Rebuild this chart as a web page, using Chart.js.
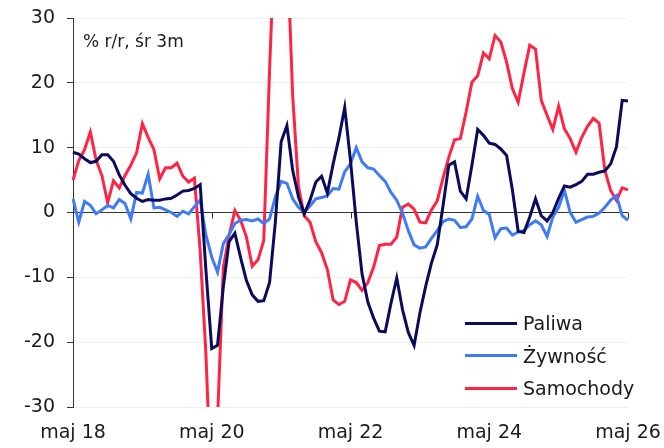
<!DOCTYPE html>
<html lang="pl">
<head>
<meta charset="UTF-8">
<title>Paliwa, żywność, samochody - % r/r, śr 3m</title>
<script src="https://cdn.jsdelivr.net/npm/chart.js"></script>
<style>
  body { margin: 0; background: #fff; font-family: "DejaVu Sans", sans-serif; }
  #wrap { position: relative; width: 664px; height: 448px; }
  #note { position: absolute; left: 83px; top: 31px; font-size: 17px; color: #1a1a1a; }
  #legend { position: absolute; left: 465px; top: 307px; font-size: 19px; color: #1a1a1a; }
  .item { display: flex; align-items: center; height: 32.5px; }
  .item span { display: inline-block; width: 52px; height: 3px; margin-right: 6px; }
</style>
</head>
<body>
<div id="wrap">
  <canvas id="chart"></canvas>
  <div id="note">% r/r, śr 3m</div>
  <div id="legend"></div>
</div>
<script>
// miesiace od maj 2018 do maj 2026
const monthNames = ['sty','lut','mar','kwi','maj','cze','lip','sie','wrz','paź','lis','gru'];
const months = [];
for (let i = 0; i < 97; i++) {
  const m = (4 + i) % 12;
  const y = 18 + Math.floor((4 + i) / 12);
  months.push(monthNames[m] + ' ' + y);
}
const tickLabels = ['maj 18', 'maj 20', 'maj 22', 'maj 24', 'maj 26'];

const paliwa = [9.3, 9.0, 8.3, 7.7, 7.9, 8.9, 8.9, 7.9, 5.8, 4.2,
  2.9, 2.2, 1.7, 2.0, 1.9, 1.9, 2.1, 2.2, 2.7, 3.3,
  3.4, 3.7, 4.3, -9.0, -21.0, -20.5, -11.5, -4.5, -3.2, -7.0,
  -10.5, -12.7, -13.7, -13.6, -10.8, -1.5, 10.9, 13.4, 6.5, 2.4,
  -0.2, 1.9, 4.7, 5.6, 3.0, 7.5, 11.5, 16.2, 8.0, -1.5,
  -9.5, -13.8, -16.3, -18.3, -18.4, -14.0, -10.1, -15.0, -18.5, -20.5,
  -15.5, -11.4, -7.8, -5.0, 1.0, 7.3, 7.8, 3.3, 2.1, 7.3,
  12.8, 11.9, 10.7, 10.5, 9.8, 8.8, 3.5, -2.9, -3.1, -0.7,
  2.1, -0.5, -1.3, 0.0, 2.2, 4.1, 3.9, 4.3, 4.8, 5.9,
  5.9, 6.2, 6.4, 7.5, 10.1, 17.3, 17.2];

const zywnosc = [2.1, -1.5, 1.7, 1.1, -0.2, 0.4, 1.1, 0.7, 2.0, 1.4,
  -1.0, 3.1, 3.0, 5.9, 0.7, 0.8, 0.4, 0.0, -0.6, 0.2,
  -0.2, 0.9, 1.9, -3.5, -6.9, -9.2, -4.8, -3.4, -1.7, -1.2,
  -1.1, -1.3, -1.0, -1.7, -1.0, 2.4, 4.8, 4.5, 2.1, 0.8,
  0.0, 1.0, 2.1, 2.3, 2.6, 3.7, 3.6, 6.3, 7.5, 10.0,
  7.8, 6.9, 6.7, 5.7, 4.8, 3.1, 1.9, -0.1, -2.8, -5.0,
  -5.5, -5.3, -4.0, -2.8, -1.4, -1.0, -1.2, -2.3, -2.2, -1.0,
  2.5, 0.3, -0.3, -3.9, -2.5, -2.4, -3.5, -3.0, -2.8, -1.9,
  -1.3, -1.9, -3.7, -0.7, 0.8, 3.4, 0.0, -1.5, -1.1, -0.7,
  -0.6, -0.1, 0.8, 1.9, 2.6, -0.5, -1.2];

const samochody = [5.0, 8.0, 9.7, 12.4, 8.1, 5.7, 1.5, 4.9, 3.8, 5.7,
  7.3, 9.2, 13.7, 11.6, 9.7, 5.2, 6.9, 6.9, 7.6, 5.6,
  4.7, 5.3, -6.0, -22.0, -45.0, -32.0, -8.5, -3.5, 0.3, -1.2,
  -3.8, -8.3, -7.3, -4.3, 22.0, 45.0, 50.0, 42.0, 18.0, 4.0,
  -0.5, -1.5, -4.5, -6.2, -8.8, -13.5, -14.2, -13.7, -10.4, -10.8,
  -12.0, -10.8, -8.4, -5.1, -4.9, -4.9, -3.8, 0.8, 1.3, 0.5,
  -1.5, -1.6, 0.4, 1.8, 5.3, 8.5, 11.2, 11.4, 15.5, 20.1,
  21.1, 24.6, 23.7, 27.3, 26.3, 23.2, 19.1, 17.0, 21.5, 25.8,
  25.2, 17.3, 15.0, 12.8, 16.4, 12.9, 11.4, 9.3, 11.6, 13.3,
  14.5, 13.8, 6.5, 3.4, 1.9, 3.8, 3.5];

const series = [
  { label: 'Paliwa', data: paliwa, color: '#0b0b5c' },
  { label: 'Żywność', data: zywnosc, color: '#3f7bf6' },
  { label: 'Samochody', data: samochody, color: '#ff2444' }
];

const legend = document.getElementById('legend');
series.forEach(s => {
  const row = document.createElement('div');
  row.className = 'item';
  row.innerHTML = `<span style="background:${s.color}"></span>${s.label}`;
  legend.appendChild(row);
});

// kreski na linii zera pod etykietami osi x
const zeroTicks = {
  id: 'zeroTicks',
  beforeDatasetsDraw(chart) {
    const x = chart.scales.x, y = chart.scales.y;
    const y0 = y.getPixelForValue(0);
    const c = chart.ctx;
    c.save();
    c.strokeStyle = '#333';
    c.lineWidth = 1;
    tickLabels.forEach(t => {
      const px = Math.round(x.getPixelForValue(months.indexOf(t))) + 0.5;
      c.beginPath();
      c.moveTo(px, y0);
      c.lineTo(px, y0 + 6);
      c.stroke();
    });
    c.restore();
  }
};

const font = { family: 'DejaVu Sans', size: 19 };

new Chart(document.getElementById('chart'), {
  type: 'line',
  data: {
    labels: months,
    datasets: series.map(s => ({
      label: s.label,
      data: s.data,
      borderColor: s.color,
      backgroundColor: s.color,
      borderWidth: 3,
      pointRadius: 0,
      tension: 0
    }))
  },
  options: {
    responsive: true,
    maintainAspectRatio: false,
    animation: false,
    layout: { padding: { top: 18, right: 0, bottom: 0, left: 0 } },
    plugins: { legend: { display: false }, tooltip: { enabled: false } },
    scales: {
      x: {
        offset: false,
        afterFit: s => { s.height = 41; s.paddingLeft = 0; s.paddingRight = 36; },
        grid: { display: false, drawTicks: false },
        border: { display: false },
        ticks: {
          autoSkip: false,
          maxRotation: 0,
          padding: 15,
          color: '#1a1a1a',
          font: font,
          callback: function(v) {
            const l = this.getLabelForValue(v);
            return tickLabels.includes(l) ? l : '';
          }
        }
      },
      y: {
        min: -30,
        max: 30,
        afterFit: s => { s.width = 73; s.paddingTop = 0; s.paddingBottom = 0; },
        ticks: { stepSize: 10, padding: 12, color: '#1a1a1a', font: font },
        grid: {
          color: ctx => ctx.tick && ctx.tick.value === 0 ? '#333' : '#efefef',
          tickColor: '#333',
          tickLength: 6,
          lineWidth: 1
        },
        border: { display: true, color: '#333', width: 1 }
      }
    }
  },
  plugins: [zeroTicks]
});
</script>
</body>
</html>
